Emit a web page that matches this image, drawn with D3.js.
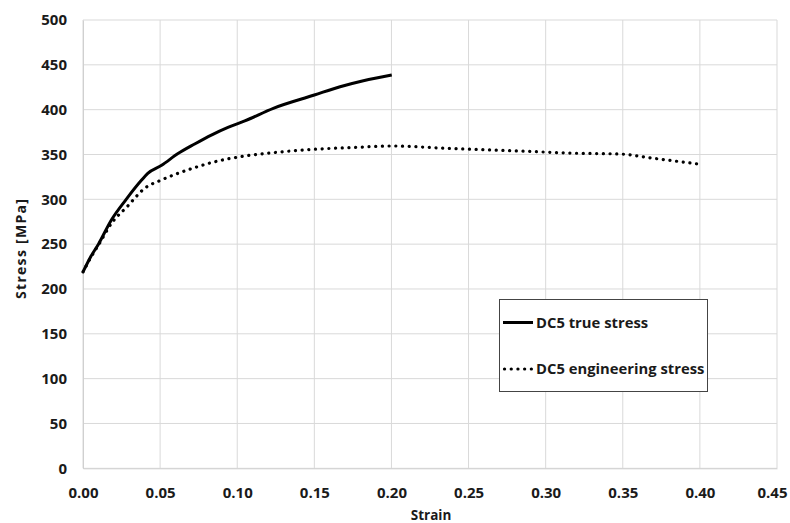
<!DOCTYPE html>
<html>
<head>
<meta charset="utf-8">
<script src="https://cdn.jsdelivr.net/npm/d3@7"></script>
<style>
  html, body { margin: 0; padding: 0; background: #fff; }
  text { font-family: "Open Sans", sans-serif; font-weight: 700; fill: #1a1a1a; }
</style>
</head>
<body>
<svg id="chart" width="790" height="523"></svg>
<script>
// ---- data ----
const trueStrain = [0, 0.005, 0.010, 0.0184, 0.028, 0.038, 0.042, 0.051, 0.0616, 0.0724, 0.0832, 0.094, 0.1049, 0.1234, 0.150, 0.1667, 0.1818, 0.2002];
const trueStress = [219, 236, 250, 277, 300, 321.5, 329, 338, 351, 361.7, 371.7, 380.3, 387.4, 401.5, 416.3, 425.6, 432.3, 438.7];

const engStrain = [0, 0.005, 0.010, 0.0184, 0.029, 0.040, 0.0508, 0.0616, 0.0724, 0.0832, 0.1049, 0.1234, 0.150, 0.1775, 0.200, 0.2359, 0.279, 0.318, 0.3482, 0.37, 0.399];
const engStress = [219, 235, 249, 273, 292.5, 312.3, 321.5, 329, 335.3, 340.9, 348.3, 352, 355.8, 358, 359.5, 356.9, 354.2, 351.5, 350.5, 345.7, 339.4];

const xTicks = [0, 0.05, 0.10, 0.15, 0.20, 0.25, 0.30, 0.35, 0.40, 0.45];
const yTicks = [0, 50, 100, 150, 200, 250, 300, 350, 400, 450, 500];
const seriesNames = ["DC5 true stress", "DC5 engineering stress"];

// ---- layout ----
const svg = d3.select("#chart");
const pLeft = 83, pRight = 777, pTop = 20, pBottom = 468.3;
const x = d3.scaleLinear().domain([0, 0.45]).range([pLeft, pRight]);
const y = d3.scaleLinear().domain([0, 500]).range([pBottom, pTop]);

// grid
svg.append("g").selectAll("line").data(xTicks).join("line")
  .attr("x1", d => x(d)).attr("x2", d => x(d))
  .attr("y1", pTop).attr("y2", pBottom)
  .attr("stroke", "#d9d9d9").attr("stroke-width", 1);
svg.append("g").selectAll("line").data(yTicks).join("line")
  .attr("x1", pLeft).attr("x2", pRight)
  .attr("y1", d => y(d)).attr("y2", d => y(d))
  .attr("stroke", "#d9d9d9").attr("stroke-width", 1);

// axes
const xAxis = d3.axisBottom(x).tickValues(xTicks).tickFormat(d3.format(".2f")).tickSize(0).tickPadding(19);
const yAxis = d3.axisLeft(y).tickValues(yTicks).tickFormat(d3.format("d")).tickSize(0).tickPadding(16);
const gx = svg.append("g").attr("transform", `translate(0,${pBottom})`).call(xAxis);
const gy = svg.append("g").attr("transform", `translate(${pLeft},0)`).call(yAxis);
[gx, gy].forEach(g => {
  g.select(".domain").attr("stroke", "#d0d0d0");
  g.selectAll("text").style("font-family", '"Open Sans", sans-serif')
    .style("font-weight", 700).style("font-size", "15px").attr("fill", "#1a1a1a");
});
// keep the last x label inside the frame, as in the reference
gx.selectAll(".tick text").filter(d => d === 0.45).attr("dx", -5);

// axis titles
svg.append("text").attr("x", (pLeft + pRight) / 2 + 1).attr("y", 520)
  .attr("text-anchor", "middle").style("font-size", "13.5px").text("Strain");
svg.append("text").attr("transform", `translate(26,249) rotate(-90)`)
  .attr("text-anchor", "middle").style("font-size", "14px")
  .attr("textLength", 100).attr("lengthAdjust", "spacing").text("Stress [MPa]");

// lines
const line = d3.line().x(d => x(d[0])).y(d => y(d[1])).curve(d3.curveMonotoneX);
const trueData = trueStrain.map((s, i) => [s, trueStress[i]]);
const engData = engStrain.map((s, i) => [s, engStress[i]]);

svg.append("path").datum(engData).attr("d", line)
  .attr("fill", "none").attr("stroke", "#000").attr("stroke-width", 3.2)
  .attr("stroke-linecap", "round").attr("stroke-dasharray", "0.1 6.6");
svg.append("path").datum(trueData).attr("d", line)
  .attr("fill", "none").attr("stroke", "#000").attr("stroke-width", 3);

// legend
const lg = svg.append("g");
lg.append("rect").attr("x", 499.5).attr("y", 299.5).attr("width", 208).attr("height", 92)
  .attr("fill", "#fff").attr("stroke", "#444").attr("stroke-width", 1);
const legY = [322.5, 369];
lg.append("line").attr("x1", 503).attr("x2", 533).attr("y1", legY[0]).attr("y2", legY[0])
  .attr("stroke", "#000").attr("stroke-width", 3);
lg.append("line").attr("x1", 504.5).attr("x2", 533).attr("y1", legY[1]).attr("y2", legY[1])
  .attr("stroke", "#000").attr("stroke-width", 3.2)
  .attr("stroke-linecap", "round").attr("stroke-dasharray", "0.1 6.6");
lg.selectAll("text.leg").data(seriesNames).join("text").attr("class", "leg")
  .attr("x", 536).attr("y", (d, i) => legY[i]).attr("dy", "0.36em")
  .style("font-size", "14.8px").text(d => d);
</script>
</body>
</html>
